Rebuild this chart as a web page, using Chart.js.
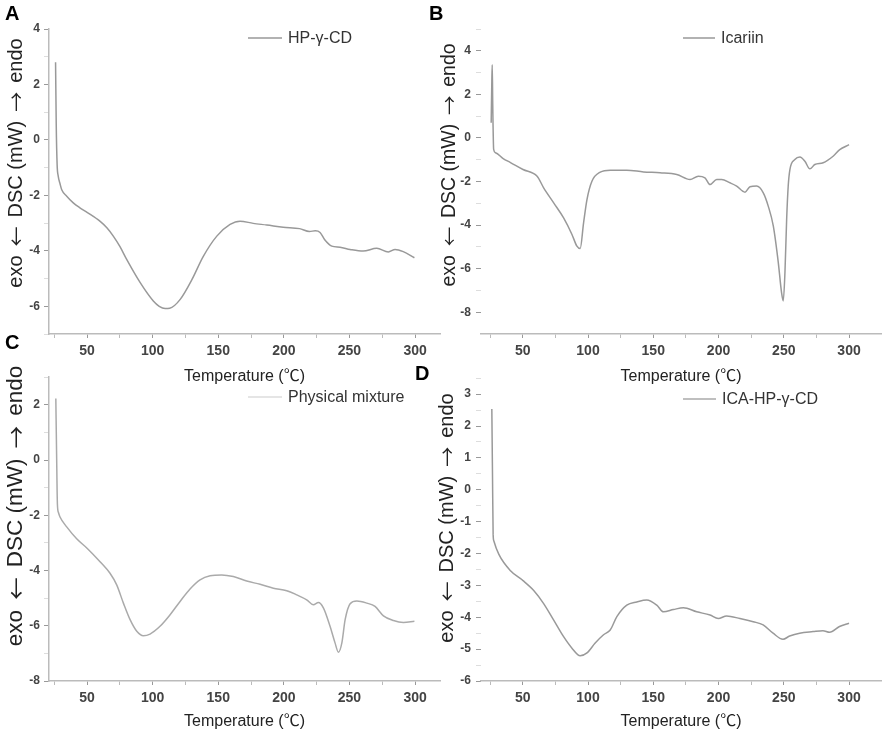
<!DOCTYPE html>
<html>
<head>
<meta charset="utf-8">
<script src="https://cdn.jsdelivr.net/npm/chart.js@4.4.0/dist/chart.umd.min.js"></script>
<style>
body { margin: 0; background: #fff; }
#wrap { position: relative; width: 886px; height: 733px; overflow: hidden; }
.box { position: absolute; }
.tag { position: absolute; font: bold 20px "Liberation Sans", Arial, sans-serif; color: #000; line-height: 1; }
</style>
</head>
<body>
<div id="wrap">
	<div class="box" style="left:0;top:0"><canvas id="chartA" width="443" height="390"></canvas></div>
	<div class="box" style="left:425px;top:0"><canvas id="chartB" width="461" height="390"></canvas></div>
	<div class="box" style="left:0;top:366px"><canvas id="chartC" width="443" height="367"></canvas></div>
	<div class="box" style="left:425px;top:366px"><canvas id="chartD" width="461" height="367"></canvas></div>
	<div class="tag" style="left:5px;top:3px">A</div>
	<div class="tag" style="left:429px;top:3px">B</div>
	<div class="tag" style="left:5px;top:332px">C</div>
	<div class="tag" style="left:415px;top:363px">D</div>
</div>
<script>
// ---- DATA ----

var xMajor = [50, 100, 150, 200, 250, 300];
var xMinor = [25, 75, 125, 175, 225, 275];

// A: HP-γ-CD
var tempA = [26.0, 26.5, 27.2, 28.0, 29.5, 30.7, 34.5, 39.5, 44.3, 50.3, 60, 65.1, 70, 75.1, 80.2, 90.4, 100.5, 105, 109.5, 113, 121, 130, 138.6, 148.9, 159, 166.6, 176.6, 187, 199.5, 212, 219.5, 224, 227.6, 231, 236.5, 242.8, 250.5, 260.4, 270.8, 279.6, 284.8, 291, 299.5];
var dscA = [2.8, 0.6, -0.9, -1.3, -1.6, -1.8, -2.03, -2.27, -2.44, -2.62, -2.94, -3.17, -3.47, -3.85, -4.31, -5.14, -5.81, -6.0, -6.08, -6.07, -5.75, -5.03, -4.2, -3.47, -3.05, -2.93, -3.01, -3.07, -3.15, -3.2, -3.3, -3.28, -3.34, -3.59, -3.83, -3.87, -3.95, -4.01, -3.91, -4.04, -3.95, -4.03, -4.25];
var yMajorA = [-6, -4, -2, 0, 2, 4];
var yMinorA = [-7, -5, -3, -1, 1, 3];

// B: Icariin
var tempB = [25.8, 26.3, 26.6, 27.0, 27.7, 29.1, 35, 40.6, 50.2, 61, 66, 73.7, 81.3, 87.7, 91.5, 94, 96.6, 99.2, 103, 109.4, 117, 129.7, 142.5, 155.2, 168, 178.2, 184.5, 189.6, 193.5, 198.6, 202.4, 208.8, 213.9, 220.3, 224.1, 229.2, 234.3, 238.1, 242, 245.8, 248.3, 249.6, 250.9, 252.2, 253.4, 254.7, 258.5, 262.4, 266.2, 270, 273.8, 280.2, 287.8, 292.9, 300];
var dscB = [0.7, 2.6, 3.36, 1.5, -0.53, -0.68, -0.95, -1.13, -1.45, -1.76, -2.29, -2.98, -3.67, -4.43, -4.97, -5.08, -3.9, -2.83, -1.99, -1.57, -1.48, -1.48, -1.56, -1.6, -1.68, -1.91, -1.76, -1.83, -2.14, -1.91, -1.91, -2.06, -2.21, -2.49, -2.24, -2.21, -2.52, -3.13, -4.05, -5.72, -7.1, -7.48, -6.18, -3.74, -2.21, -1.45, -0.99, -0.87, -1.07, -1.42, -1.22, -1.14, -0.84, -0.54, -0.31];
var yMajorB = [-8, -6, -4, -2, 0, 2, 4];
var yMinorB = [-7, -5, -3, -1, 1, 3, 5];

// C: Physical mixture
var tempC = [26.2, 26.8, 27.4, 28.2, 29.4, 34.5, 42.1, 50.2, 59.9, 67.5, 72.6, 77.7, 82.8, 87.9, 92.9, 98, 105.6, 113.3, 120.9, 128.5, 136.1, 143.8, 152.6, 161.5, 171.7, 181.9, 192, 202.2, 209.8, 217.4, 222.5, 226.3, 230.2, 235.2, 239, 241.6, 244.2, 246.7, 250.5, 255.6, 263.3, 269.5, 275.9, 283.5, 291.1, 299.5];
var dscC = [2.23, 0.2, -1.59, -1.9, -2.06, -2.42, -2.85, -3.2, -3.68, -4.1, -4.52, -5.18, -5.78, -6.2, -6.36, -6.3, -6.02, -5.6, -5.12, -4.67, -4.34, -4.19, -4.16, -4.22, -4.38, -4.5, -4.64, -4.73, -4.88, -5.06, -5.24, -5.16, -5.36, -6.02, -6.62, -6.96, -6.62, -5.78, -5.2, -5.1, -5.18, -5.3, -5.64, -5.81, -5.88, -5.84];
var yMajorC = [-8, -6, -4, -2, 0, 2];
var yMinorC = [-7, -5, -3, -1, 1, 3];

// D: ICA-HP-γ-CD
var tempD = [26.3, 26.8, 27.3, 27.8, 31.6, 40.6, 50.2, 58.4, 66, 73.7, 81.3, 87.7, 94, 99.2, 105.5, 111.9, 117, 122.1, 129.7, 137.4, 145, 152.7, 157.8, 165.4, 173.1, 183.3, 193.5, 199.8, 206.2, 216.4, 226.6, 234.2, 241.8, 249.4, 254.5, 262.2, 272.4, 280, 285.1, 292.7, 300];
var dscD = [2.53, 0.5, -1.4, -1.6, -2.02, -2.54, -2.85, -3.16, -3.57, -4.09, -4.61, -4.97, -5.21, -5.12, -4.81, -4.55, -4.4, -3.98, -3.62, -3.52, -3.46, -3.62, -3.83, -3.76, -3.7, -3.83, -3.93, -4.04, -3.96, -4.04, -4.14, -4.24, -4.5, -4.69, -4.59, -4.5, -4.45, -4.42, -4.47, -4.29, -4.19];
var yMajorD = [-6, -5, -4, -3, -2, -1, 0, 1, 2, 3];
var yMinorD = [-5.5, -4.5, -3.5, -2.5, -1.5, -0.5, 0.5, 1.5, 2.5, 3.5];

var FONT = '"Liberation Sans", Arial, "Noto Sans CJK SC", sans-serif';
var CJK = '"Noto Sans CJK SC", sans-serif';

// y title pieces: arrows come from the CJK font so they are full width
var yTitleParts = [['exo', FONT], ['\u2190', CJK], ['DSC (mW)', FONT], ['\u2192', CJK], ['endo', FONT]];

// draws rotated y title and the small legend inside the plot
var panelText = {
	id: 'panelText',
	afterDraw: function(chart, args, o) {
		var ctx = chart.ctx;
		var gap = o.titleSize * 0.45;
		ctx.save();
		ctx.fillStyle = '#222';
		ctx.textAlign = 'left';
		ctx.textBaseline = 'middle';
		ctx.translate(o.titleX, o.titleY);
		ctx.rotate(-Math.PI / 2);
		var total = gap * (yTitleParts.length - 1);
		yTitleParts.forEach(function(p) {
			ctx.font = o.titleSize + 'px ' + p[1];
			total += ctx.measureText(p[0]).width;
		});
		var pos = -total / 2;
		yTitleParts.forEach(function(p) {
			ctx.font = o.titleSize + 'px ' + p[1];
			ctx.fillText(p[0], pos, 0);
			pos += ctx.measureText(p[0]).width + gap;
		});
		ctx.restore();

		ctx.save();
		ctx.strokeStyle = o.legendColor;
		ctx.lineWidth = 1.5;
		ctx.beginPath();
		ctx.moveTo(o.legX1, o.legY);
		ctx.lineTo(o.legX2, o.legY);
		ctx.stroke();
		ctx.fillStyle = '#333';
		ctx.font = '16px ' + FONT;
		ctx.textAlign = 'left';
		ctx.textBaseline = 'middle';
		ctx.fillText(chart.data.datasets[0].label, o.legX2 + 6, o.legY + 1);
		ctx.restore();
	}
};

function makeChart(id, label, temps, vals, p) {
	var pts = temps.map(function(t, i) { return {x: t, y: vals[i]}; });
	var yAll = p.yMajor.concat(p.yMinor).sort(function(a, b) { return a - b; });
	var xAll = xMajor.concat(xMinor).sort(function(a, b) { return a - b; });

	new Chart(id, {
		type: 'line',
		data: {
			datasets: [{
				label: label,
				data: pts,
				borderColor: p.lineColor,
				borderWidth: 1.5,
				pointRadius: 0,
				cubicInterpolationMode: 'monotone'
			}]
		},
		options: {
			responsive: false,
			animation: false,
			layout: {padding: {left: 0, top: p.top, right: p.right, bottom: 0}},
			plugins: {
				legend: {display: false},
				tooltip: {enabled: false},
				panelText: p.text
			},
			scales: {
				x: {
					type: 'linear',
					min: p.xMin,
					max: p.xMax,
					afterBuildTicks: function(s) { s.ticks = xAll.map(function(v) { return {value: v}; }); },
					afterFit: function(s) { s.height = p.xHeight; },
					border: {display: true, color: '#bbb', width: 1.5},
					grid: {
						drawOnChartArea: false,
						tickLength: 4,
						tickColor: function(c) { return c.tick && xMajor.indexOf(c.tick.value) >= 0 ? '#999' : '#bbb'; }
					},
					ticks: {
						autoSkip: false,
						maxRotation: 0,
						padding: 5,
						color: '#444',
						font: {family: FONT, size: 14, weight: 'bold'},
						callback: function(v) { return xMajor.indexOf(v) >= 0 ? v : ''; }
					},
					title: {
						display: true,
						text: 'Temperature (\u2103)',
						color: '#222',
						font: {family: FONT, size: 16},
						padding: {top: 0, bottom: p.titlePad}
					}
				},
				y: {
					min: p.yMin,
					max: p.yMax,
					afterBuildTicks: function(s) { s.ticks = yAll.map(function(v) { return {value: v}; }); },
					afterFit: function(s) { s.width = p.yWidth; },
					border: {display: p.yBorder, color: '#bbb', width: 1.5},
					grid: {
						drawOnChartArea: false,
						tickLength: 5,
						tickColor: function(c) { return c.tick && p.yMajor.indexOf(c.tick.value) >= 0 ? '#999' : '#ddd'; }
					},
					ticks: {
						autoSkip: false,
						padding: p.yPad,
						color: '#444',
						font: {family: FONT, size: 12, weight: 'bold'},
						callback: function(v) { return p.yMajor.indexOf(v) >= 0 ? v : ''; }
					}
				}
			}
		},
		plugins: [panelText]
	});
}

makeChart('chartA', 'HP-\u03b3-CD', tempA, dscA, {
	lineColor: '#999', xMin: 21, xMax: 319, yMin: -7, yMax: 4,
	yMajor: yMajorA, yMinor: yMinorA, yBorder: true, yPad: 4,
	top: 29, right: 3, yWidth: 49, xHeight: 56, titlePad: 4,
	text: {titleX: 16, titleY: 163, titleSize: 20, legendColor: '#999', legX1: 248, legX2: 282, legY: 38}
});

makeChart('chartB', 'Icariin', tempB, dscB, {
	lineColor: '#999', xMin: 18, xMax: 324.5, yMin: -9, yMax: 5,
	yMajor: yMajorB, yMinor: yMinorB, yBorder: false, yPad: 5,
	top: 29, right: 5, yWidth: 56, xHeight: 56, titlePad: 4,
	text: {titleX: 25, titleY: 165, titleSize: 19.5, legendColor: '#999', legX1: 258, legX2: 290, legY: 38}
});

makeChart('chartC', 'Physical mixture', tempC, dscC, {
	lineColor: '#aaa', xMin: 21, xMax: 319, yMin: -8, yMax: 3,
	yMajor: yMajorC, yMinor: yMinorC, yBorder: true, yPad: 4,
	top: 9, right: 3, yWidth: 49, xHeight: 52, titlePad: 2,
	text: {titleX: 16, titleY: 140, titleSize: 22.5, legendColor: '#ddd', legX1: 248, legX2: 282, legY: 31}
});

makeChart('chartD', 'ICA-HP-\u03b3-CD', tempD, dscD, {
	lineColor: '#999', xMin: 18, xMax: 324.5, yMin: -6, yMax: 3.5,
	yMajor: yMajorD, yMinor: yMinorD, yBorder: false, yPad: 5,
	top: 9, right: 5, yWidth: 56, xHeight: 52, titlePad: 2,
	text: {titleX: 22, titleY: 152, titleSize: 20, legendColor: '#aaa', legX1: 258, legX2: 291, legY: 33}
});
</script>
</body>
</html>
